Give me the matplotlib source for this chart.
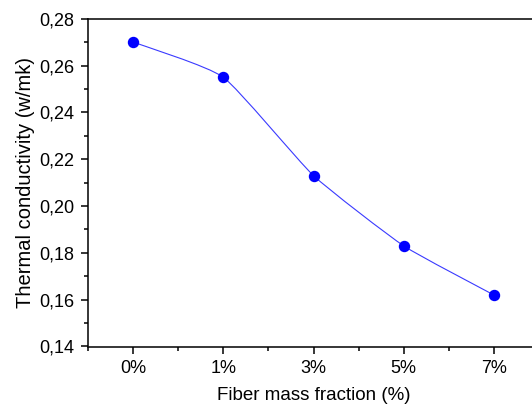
import numpy as np
import matplotlib.pyplot as plt
from matplotlib.path import Path
from matplotlib.patches import PathPatch
from matplotlib.ticker import MultipleLocator, FuncFormatter

plt.rcParams['font.family'] = ['Liberation Sans', 'DejaVu Sans']

# data
categories = ['0%', '1%', '3%', '5%', '7%']
conductivity = [0.270, 0.255, 0.213, 0.183, 0.162]

x = np.arange(1, len(categories) + 1)
y = np.array(conductivity)

fig = plt.figure(figsize=(5.32, 4.05), dpi=100)
# right spine sits just past the canvas edge, as in the reference
ax = fig.add_axes([88 / 532, 58.5 / 405, 451 / 532, 327.8 / 405])

# gently smoothed connecting line (Bezier segments through the points)
k = 12
verts = [(x[0], y[0])]
codes = [Path.MOVETO]
n = len(x)
for i in range(n - 1):
    p0 = (x[max(i - 1, 0)], y[max(i - 1, 0)])
    p1 = (x[i], y[i])
    p2 = (x[i + 1], y[i + 1])
    p3 = (x[min(i + 2, n - 1)], y[min(i + 2, n - 1)])
    c1 = (p1[0] + (p2[0] - p0[0]) / k, p1[1] + (p2[1] - p0[1]) / k)
    c2 = (p2[0] - (p3[0] - p1[0]) / k, p2[1] - (p3[1] - p1[1]) / k)
    verts += [c1, c2, p2]
    codes += [Path.CURVE4] * 3
ax.add_patch(PathPatch(Path(verts, codes), facecolor='none',
                       edgecolor='#3a3aff', lw=0.8, zorder=2))

ax.plot(x, y, 'o', color='#0000ff', markersize=7.2, zorder=3)

ax.set_xlim(0.5, 5.5)
ax.set_ylim(0.14, 0.28)
ax.set_xticks(x)
ax.set_xticklabels(categories)
ax.xaxis.set_minor_locator(MultipleLocator(0.5))
ax.yaxis.set_major_locator(MultipleLocator(0.02))
ax.yaxis.set_minor_locator(MultipleLocator(0.01))
ax.yaxis.set_major_formatter(FuncFormatter(lambda v, p: f'{v:.2f}'.replace('.', ',')))

ax.tick_params(which='major', direction='out', length=5, width=1.1, labelsize=13, pad=5)
ax.tick_params(which='minor', direction='out', length=3, width=1.1)
ax.tick_params(axis='x', which='both', top=False)
ax.tick_params(axis='y', which='both', right=False)
for s in ax.spines.values():
    s.set_linewidth(1.1)

ax.set_xlabel('Fiber mass fraction (%)', fontsize=13.5, labelpad=7)
ax.set_ylabel('Thermal conductivity (w/mk)', fontsize=14.5, labelpad=3)

fig.savefig('out.png', dpi=100)
